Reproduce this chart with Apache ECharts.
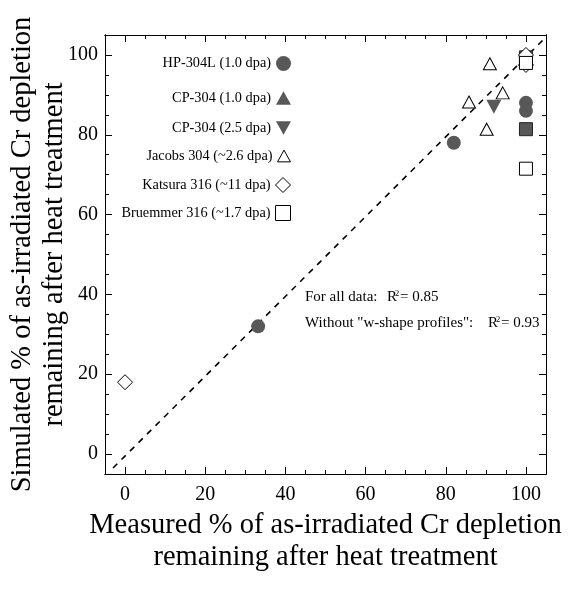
<!DOCTYPE html>
<html>
<head>
<meta charset="utf-8">
<script src="https://cdn.jsdelivr.net/npm/echarts@6/dist/echarts.min.js"></script>
<style>html,body{margin:0;padding:0;background:#fff;}#c{width:578px;height:589px;}</style>
</head>
<body>
<div id="c"></div>
<script>
const majorTicks = [0, 20, 40, 60, 80, 100];
const minorTicks = [0,5,10,15,20,25,30,35,40,45,50,55,60,65,70,75,80,85,90,95,100];
const seriesNames = ['HP-304L (1.0 dpa)', 'CP-304 (1.0 dpa)', 'CP-304 (2.5 dpa)', 'Jacobs 304 (~2.6 dpa)', 'Katsura 316 (~11 dpa)', 'Bruemmer 316 (~1.7 dpa)'];
const hp304L = [[33.2, 32], [82, 78], [100, 88], [100, 86], [100, 98.5]];
const cp304_10 = [[100, 99]];
const cp304_25 = [[92, 87], [100, 98]];
const jacobs304 = [[91, 97.8], [94.2, 90.5], [85.8, 88.2], [90.2, 81.4]];
const katsura316 = [[0, 18], [100, 100], [100, 97.5]];
const bruemmer316 = [[100, 71.5], [100, 98]];
const overlapSquares = [[100, 81.4], [100, 99.4]];
const refLineX = [-3, 105];
const refLineY = [-3.5, 104.5];
const legendCenterY = [98, 89.3, 81.8, 74.7, 67.6, 60.7];
const fitNotes = ['For all data:', 'Without "w-shape profiles":'];
const fitR2 = ['= 0.85', '= 0.93'];

const FONT = 'Liberation Serif';
const GRAY = '#585858';
const downTri = 'path://M0,0 L10,0 L5,9 Z';
const upTri = 'path://M5,0 L10,9 L0,9 Z';

const chart = echarts.init(document.getElementById('c'));
const grid = {left: 105, top: 35, right: 32, bottom: 115, containLabel: false, outerBoundsMode: 'none'};
const plotH = 589 - 35 - 115;
function yPix(v) { return 35 + (105 - v) / 110 * plotH; }

function mkAxis(dim, pos, ticks, len, labels, extra) {
  const a = {
    type: 'value', position: pos, min: -5, max: 105, gridIndex: 0,
    axisLine: {show: true, onZero: false, lineStyle: {color: '#000', width: 1}},
    axisTick: {show: true, inside: true, length: len, customValues: ticks, lineStyle: {color: '#000', width: 1}},
    axisLabel: labels ? {show: true, customValues: majorTicks, fontFamily: FONT, fontSize: 20, color: '#000', margin: dim === 'x' ? 11 : 7} : {show: false},
    splitLine: {show: false}
  };
  return Object.assign(a, extra || {});
}

const xName = 'Measured % of as-irradiated Cr depletion\nremaining after heat treatment';
const yName = 'Simulated % of as-irradiated Cr depletion\nremaining after heat treatment';
const nameStyle = {fontFamily: FONT, fontSize: 28.5, color: '#000', lineHeight: 32};

const xAxis = [
  mkAxis('x', 'bottom', majorTicks, 7, true, {name: xName, nameLocation: 'middle', nameGap: 36, nameMoveOverlap: false, nameTextStyle: nameStyle}),
  mkAxis('x', 'bottom', minorTicks, 4, false),
  mkAxis('x', 'top', majorTicks, 7, false),
  mkAxis('x', 'top', minorTicks, 4, false)
];
const yAxis = [
  mkAxis('y', 'left', majorTicks, 7, true, {name: yName, nameLocation: 'middle', nameGap: 34, nameMoveOverlap: false, nameRotate: 90, nameTextStyle: nameStyle}),
  mkAxis('y', 'left', minorTicks, 4, false),
  mkAxis('y', 'right', majorTicks, 7, false),
  mkAxis('y', 'right', minorTicks, 4, false)
];

const filledStyle = {color: GRAY, borderColor: GRAY, borderWidth: 0, opacity: 1};
const openStyle = {color: '#fff', borderColor: '#000', borderWidth: 1, opacity: 1};

const symbolDefs = [
  {sym: 'circle', size: 14, style: filledStyle, data: hp304L},
  {sym: upTri, size: [15, 14], style: filledStyle, data: cp304_10},
  {sym: downTri, size: [15, 14], style: filledStyle, data: cp304_25},
  {sym: upTri, size: [13, 12], style: openStyle, data: jacobs304},
  {sym: 'diamond', size: [15, 15], style: openStyle, data: katsura316},
  {sym: 'rect', size: [13, 13], style: openStyle, data: bruemmer316}
];

const series = [
  {type: 'line', data: refLineX.map((x, i) => [x, refLineY[i]]), showSymbol: false, symbol: 'none', silent: true,
   lineStyle: {color: '#000', width: 1.6, type: [6, 6]}, clip: true, z: 1},
  {type: 'scatter', name: '_overlap', data: overlapSquares, symbol: 'rect', symbolSize: 13,
   itemStyle: {color: GRAY, borderColor: '#222', borderWidth: 1, opacity: 1}, z: 2, silent: true}
];
symbolDefs.forEach((d, i) => {
  series.push({type: 'scatter', name: seriesNames[i], data: d.data, symbol: d.sym, symbolSize: d.size,
    itemStyle: d.style, z: 3 + i, silent: true});
});

const legends = seriesNames.map((n, i) => ({
  data: [{name: n, icon: symbolDefs[i].sym}],
  selectedMode: false, align: 'right', orient: 'vertical',
  right: 578 - 291, top: Math.round(yPix(legendCenterY[i]) - 7),
  itemWidth: i === 3 ? 13 : 15, itemHeight: i === 3 ? 12 : 15, padding: 0,
  textStyle: {fontFamily: FONT, fontSize: 14.3, color: '#000'},
  itemStyle: {borderWidth: symbolDefs[i].style.borderWidth}
}));

const noteStyle = {fontFamily: FONT, fontSize: 15, fill: '#000'};
const supStyle = {fontFamily: FONT, fontSize: 8.5, fill: '#000'};
const noteLayout = [
  {top: 290, rX: 387, supTop: 289, supX: 395, eqX: 400},
  {top: 316, rX: 488, supTop: 315, supX: 496, eqX: 501}
];
const graphics = [];
fitNotes.forEach((t, i) => {
  const L = noteLayout[i];
  graphics.push({type: 'text', left: 305, top: L.top, style: Object.assign({text: t}, noteStyle)});
  graphics.push({type: 'text', left: L.rX, top: L.top, style: Object.assign({text: 'R'}, noteStyle)});
  graphics.push({type: 'text', left: L.supX, top: L.supTop, style: Object.assign({text: '2'}, supStyle)});
  graphics.push({type: 'text', left: L.eqX, top: L.top, style: Object.assign({text: fitR2[i]}, noteStyle)});
});

chart.setOption({
  animation: false,
  backgroundColor: '#fff',
  grid: grid,
  xAxis: xAxis,
  yAxis: yAxis,
  legend: legends,
  series: series,
  graphic: graphics
});
</script>
</body>
</html>
